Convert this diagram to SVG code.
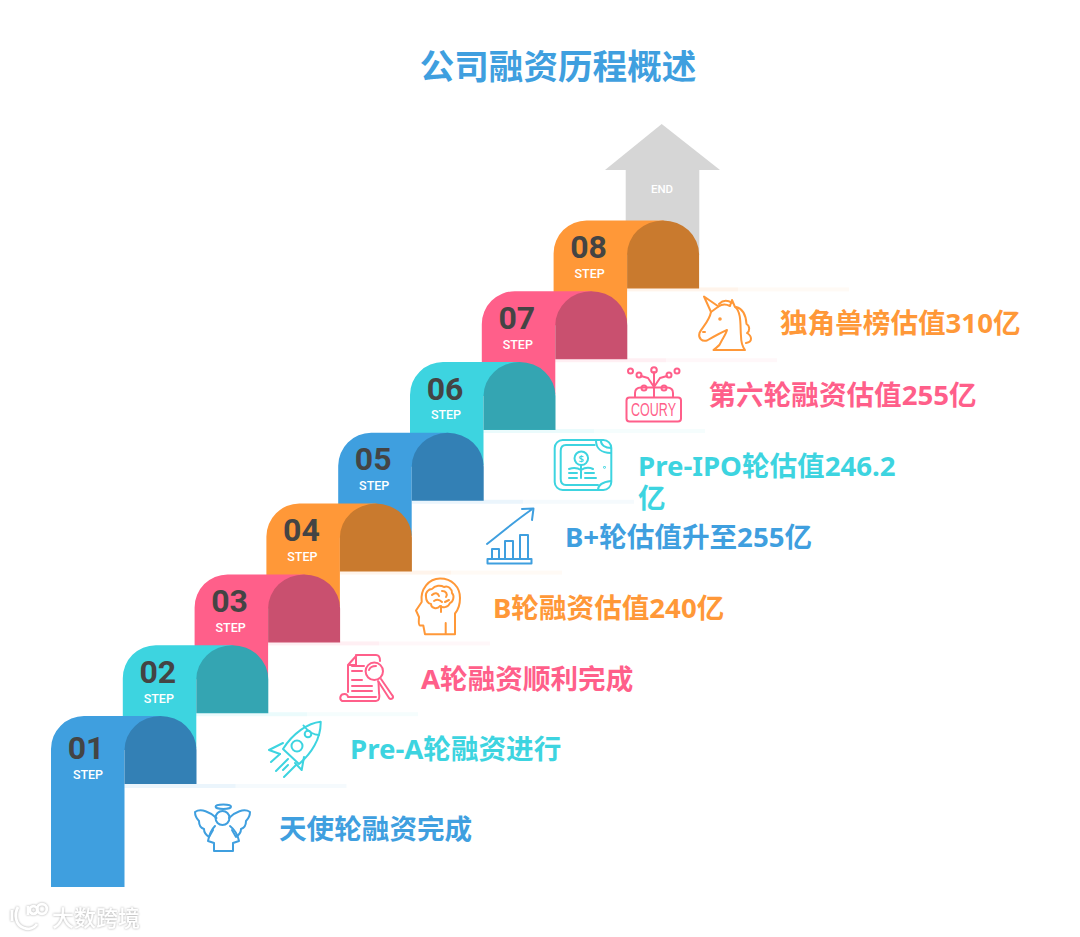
<svg xmlns="http://www.w3.org/2000/svg" xmlns:xlink="http://www.w3.org/1999/xlink" width="1080" height="937" viewBox="0 0 1080 937">
<style>
text{font-family:"Noto Sans","Noto Sans CJK SC",sans-serif}
.t{font-family:"Noto Sans","Noto Sans CJK SC",sans-serif;font-weight:700;font-size:27.600px}
.n{font-family:Roboto,"Noto Sans",sans-serif;font-size:32px;font-weight:700;fill:#444;text-anchor:middle}
.s{font-family:Roboto,"Noto Sans",sans-serif;font-size:12.500px;font-weight:500;fill:#fff;text-anchor:middle}
.i{fill:none;stroke-width:2;stroke-linecap:round;stroke-linejoin:round}
.blue .a{fill:#3f9fdf}.blue .b{fill:#3380b5}.blue .t{fill:#3f9fdf}.blue .i{stroke:#3f9fdf}.blue .c{fill:#3f9fdf}
.cyan .a{fill:#3dd4e0}.cyan .b{fill:#34a5b2}.cyan .t{fill:#3dd4e0}.cyan .i{stroke:#3dd4e0}.cyan .c{fill:#3dd4e0}
.pink .a{fill:#ff5f8a}.pink .b{fill:#c9506f}.pink .t{fill:#ff5f8a}.pink .i{stroke:#ff5f8a}.pink .c{fill:#ff5f8a}
.orange .a{fill:#ff9838}.orange .b{fill:#c97a2e}.orange .t{fill:#ff9838}.orange .i{stroke:#ff9838}.orange .c{fill:#ff9838}
.c1{opacity:.1}.c2{opacity:.05}
</style>
<defs>
<path id="col" d="M0,103V33A33,33 0 0 1 33,0H110V34H73.500V103Z"/>
<path id="dark" d="M73.500,68V34A36,34 0 0 1 109.500,0A36,34 0 0 1 145.500,34V68Z"/>
<filter id="glow" x="-10%" y="-30%" width="120%" height="160%"><feGaussianBlur in="SourceAlpha" stdDeviation="1.100"/><feColorMatrix values="0 0 0 0 .5 0 0 0 0 .5 0 0 0 0 .5 0 0 0 1.300 0"/><feMerge><feMergeNode/><feMergeNode in="SourceGraphic"/></feMerge></filter>
</defs>
<rect width="1080" height="937" fill="#fff"/>
<text x="558" y="79" text-anchor="middle" style="font-family:'Noto Sans CJK SC',sans-serif;font-weight:700;font-size:34.600px;fill:#3f9fdf">公司融资历程概述</text>

<g id="end-arrow">
<path d="M661.700,124L720,170H699.300V255H625.700V170H605Z" fill="#d6d6d6"/>
<text x="662" y="193" text-anchor="middle" style="font-family:Roboto,sans-serif;font-size:11.500px;font-weight:500;fill:#fff">END</text>
</g>

<g id="node-08" class="orange">
<g transform="translate(553.600,220.400)"><use xlink:href="#col" class="a"/><use xlink:href="#dark" class="b"/><text class="n" x="35" y="38">08</text><text class="s" x="36" y="57.500">STEP</text></g>
<rect class="c c1" x="627" y="287.400" width="111" height="4"/><rect class="c c2" x="738" y="287.400" width="111" height="4"/>
<g class="i"><path d="M704,296.500L711,312L718.500,306.500Z"/><path d="M718.500,306.500C722,304 726,304 730,306L732,300L735,307C742,312 740,328 741,336C741,342 742,346 745,350H713.500C717,347 720,346 721,342C723,338 726,334 727,330C720,333 713,337 707,340.500C702,342 698,338 699.500,333C702,327 709,322 711,312"/><path d="M719,304C724,299 729,301 732,303M736,307C744,309 746,316 746.500,324C750,326 750,331 747,333C752,336 753,342 746,343"/><circle cx="720" cy="319" r=".8"/><path d="M703,332H705"/></g>
<text class="t" x="780" y="333">独角兽榜估值310亿</text>
</g>

<g id="node-07" class="pink">
<g transform="translate(481.800,291.200)"><use xlink:href="#col" class="a"/><use xlink:href="#dark" class="b"/><text class="n" x="35" y="37.500">07</text><text class="s" x="36" y="58">STEP</text></g>
<rect class="c c1" x="555" y="358.200" width="111" height="4"/><rect class="c c2" x="666" y="358.200" width="111" height="4"/>
<g class="i"><rect x="626.500" y="397.500" width="54.500" height="24" rx="3"/><path d="M635,397V393C635,389 637,387.500 641,387.500H667C671,387.500 673,389 673,393V397"/><path d="M654,372V397M654,387L648,378M654,387L660,378M648,378L641,376M660,378L667,376"/><circle cx="654" cy="370" r="2.800"/><circle cx="630.500" cy="371" r="2.500"/><circle cx="639" cy="375" r="2.500"/><circle cx="677" cy="371" r="2.500"/><circle cx="669" cy="375" r="2.500"/><circle cx="644" cy="388" r="2.500"/><circle cx="664" cy="388" r="2.500"/></g>
<text x="653.500" y="416" text-anchor="middle" style="font-family:'Liberation Sans',sans-serif;font-size:18px;fill:#ff5f8a" textLength="45" lengthAdjust="spacingAndGlyphs">COURY</text>
<text class="t" x="708.500" y="405">第六轮融资估值255亿</text>
</g>

<g id="node-06" class="cyan">
<g transform="translate(410,362)"><use xlink:href="#col" class="a"/><use xlink:href="#dark" class="b"/><text class="n" x="35" y="37.500">06</text><text class="s" x="36" y="57">STEP</text></g>
<rect class="c c1" x="483" y="429" width="111" height="4"/><rect class="c c2" x="594" y="429" width="111" height="4"/>
<g class="i"><rect x="554.700" y="440" width="56.600" height="50" rx="8"/><path d="M594.700,445H566C562.500,445 560.700,447 560.700,451V479C560.700,483 562.500,485 566,485H598"/><path d="M596,440.500C596,448 601,453 611,453M601,441C601,445 605,448 611,448M598,490C598,484 603,482 611,481"/><circle cx="581.300" cy="458.300" r="6.800"/><path d="M581,465.500V478M569,469C574,467 578,468 581,470C584,468 589,467 593,469M569,473H577M585,473H594M569,478H577M585,478H596"/><circle cx="604.500" cy="467.300" r=".4"/></g>
<text x="581.300" y="461.500" text-anchor="middle" style="font-size:9.500px;font-weight:600;fill:#3dd4e0">$</text>
<text class="t" x="638" y="476">Pre-IPO轮估值246.2</text>
<text class="t" x="638" y="508">亿</text>
</g>

<g id="node-05" class="blue">
<g transform="translate(338.200,432.800)"><use xlink:href="#col" class="a"/><use xlink:href="#dark" class="b"/><text class="n" x="35" y="37.500">05</text><text class="s" x="36" y="57.500">STEP</text></g>
<rect class="c c1" x="412" y="499.800" width="111" height="4"/><rect class="c c2" x="523" y="499.800" width="111" height="4"/>
<g class="i"><path d="M487,544C500,534 515,521 531,510M522,509L533.500,508.500L532,520"/><rect x="487.500" y="559" width="44" height="4.500"/><rect x="492" y="549" width="7" height="10"/><rect x="505" y="541" width="8" height="18"/><rect x="520" y="535" width="8" height="24"/></g>
<text class="t" x="565" y="547">B+轮估值升至255亿</text>
</g>

<g id="node-04" class="orange">
<g transform="translate(266.400,503.600)"><use xlink:href="#col" class="a"/><use xlink:href="#dark" class="b"/><text class="n" x="35" y="37.500">04</text><text class="s" x="36" y="57.500">STEP</text></g>
<rect class="c c1" x="340" y="570.600" width="111" height="4"/><rect class="c c2" x="451" y="570.600" width="111" height="4"/>
<g class="i"><path d="M445.700,634.300H425L423.300,625.500H420C418,625 419,619 419,617L416,610.500L421.700,602C420,589 429,578.500 440,578.500C452,578.500 460,587 460,598C460,605 458,610 455,613.500V634.300H445.700V623"/><path d="M426,597C425,592 429,589 432,589C435,585 441,585 444,587C448,585 452,589 452,593C455,596 453,602 450,603C448,608 442,608 440,606C437,610 431,608 431,604C428,604 426,600 426,597Z"/><path d="M432,595C435,592 438,593 439,596M442,591C446,591 448,594 446,597M434,601C437,599 440,600 442,602M445,602L449,600M441,606V612"/></g>
<text class="t" x="493" y="618">B轮融资估值240亿</text>
</g>

<g id="node-03" class="pink">
<g transform="translate(194.600,574.400)"><use xlink:href="#col" class="a"/><use xlink:href="#dark" class="b"/><text class="n" x="35" y="37.500">03</text><text class="s" x="36" y="57.500">STEP</text></g>
<rect class="c c1" x="268" y="641.400" width="111" height="4"/><rect class="c c2" x="379" y="641.400" width="111" height="4"/>
<g class="i"><path d="M348,692V665L357,655H376C379,655 380,658 380,661M348,665H356V655M344.500,694C340,694 339,699 342,701H376C379,701 380,698 379,693L378.500,682M344.500,694C347,694 348,696 348,697H376"/><path d="M352,666H364M352,671H362M352,680H362M352,686H372M352,691H372"/><circle cx="374.300" cy="671.300" r="8.700"/><path d="M369,670C370,667 373,666 376,666M381,679L392,695C395,698 391,700 389,698L378,681"/></g>
<text class="t" x="421" y="689">A轮融资顺利完成</text>
</g>

<g id="node-02" class="cyan">
<g transform="translate(122.800,645.200)"><use xlink:href="#col" class="a"/><use xlink:href="#dark" class="b"/><text class="n" x="35" y="37.500">02</text><text class="s" x="36" y="58">STEP</text></g>
<rect class="c c1" x="196" y="712.200" width="111" height="4"/><rect class="c c2" x="307" y="712.200" width="111" height="4"/>
<g class="i"><path d="M320.700,721.700C308,723 293,733 283,749L299,764C311,754 321,739 320.700,721.700Z"/><path d="M303.500,725.500C307,730 313,735 319,735"/><path d="M283,743L269,750L280,754M304,757L301.700,770L295,763"/><circle cx="297" cy="746" r="5.500"/><circle cx="308" cy="734" r="3.300"/><path d="M271,762L280,754M276,771L288,759M284,777L296,765M283,770L288,765"/></g>
<text class="t" x="350" y="759">Pre-A轮融资进行</text>
</g>

<g id="node-01" class="blue">
<g transform="translate(51,716)"><path class="a" d="M0,171V33A33,33 0 0 1 33,0H110V34H73.500V171Z"/><use xlink:href="#dark" class="b"/><text class="n" x="35" y="43">01</text><text class="s" x="37" y="63">STEP</text></g>
<rect class="c c1" x="124.500" y="784" width="111" height="4"/><rect class="c c2" x="235.500" y="784" width="111" height="4"/>
<g class="i"><ellipse cx="223.300" cy="806.700" rx="7.700" ry="2.300"/><circle cx="222.500" cy="818" r="7"/><path d="M216.500,818C210,812 201,808 195,812C195,816 197,819 199,821C199,825 201,828 204,829C204,833 206,835 209,837L213,830"/><path d="M229,818C235,812 244,808 250,812C250,816 248,819 246,821C246,825 244,828 241,829C241,833 239,835 236,837L232,830"/><path d="M215,826C211,830 209,836 208,841L214,843V851H233V843L239,841C238,836 235,830 230,826"/></g>
<text class="t" x="279" y="839">天使轮融资完成</text>
</g>

<g id="watermark" filter="url(#glow)">
<g fill="none" stroke="#fff" stroke-width="2.800"><path d="M12,910V921"/><path d="M18,907C14,914 15,925 24,928C29,930 34,928 37,924"/><path d="M28,906V915"/><circle cx="33.500" cy="910" r="3.800"/><circle cx="42" cy="909" r="4.800"/></g>
<text x="52" y="926" style="font-family:'Noto Sans CJK SC',sans-serif;font-size:22px;font-weight:500;fill:#fff">大数跨境</text>
</g>
</svg>
